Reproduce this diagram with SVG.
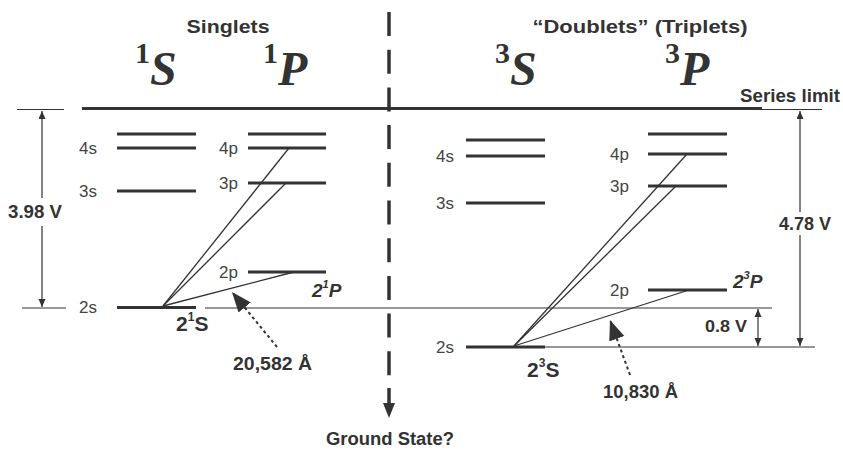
<svg xmlns="http://www.w3.org/2000/svg" width="843" height="453" viewBox="0 0 843 453">
<style>
.lvl{stroke:#333;stroke-width:3.2;fill:none}
.thin{stroke:#333;stroke-width:1.2;fill:none}
.tr{stroke:#333;stroke-width:1.3;fill:none}
.dot{stroke:#333;stroke-width:2;stroke-dasharray:3 3;fill:none}
.sans{font-family:"Liberation Sans",Arial,sans-serif}
.b{font-weight:bold;fill:#333}
.lab{font-family:"Liberation Sans",Arial,sans-serif;font-size:17px;fill:#444}
.big{font-family:"Liberation Serif","Times New Roman",serif;font-weight:bold;fill:#333}
.bi{font-size:48px;font-style:italic}
</style>
<defs>
<marker id="sm" markerUnits="userSpaceOnUse" markerWidth="8" markerHeight="12" refX="8" refY="3.5" orient="auto">
<path d="M0,0 L8,3.5 L0,7 z" fill="#333"/>
</marker>
<marker id="smStart" markerUnits="userSpaceOnUse" markerWidth="8" markerHeight="12" refX="0" refY="3.5" orient="auto">
<path d="M8,0 L0,3.5 L8,7 z" fill="#333"/>
</marker>
<marker id="bigA" markerUnits="userSpaceOnUse" markerWidth="22" markerHeight="18" refX="20" refY="8" orient="auto">
<path d="M0,0 L20,8 L0,16 z" fill="#333"/>
</marker>
</defs>

<g id="titles">
<text class="sans b" x="228" y="33" font-size="19" text-anchor="middle" textLength="83" lengthAdjust="spacingAndGlyphs">Singlets</text>
<text class="sans b" x="640" y="33" font-size="19" text-anchor="middle" textLength="215" lengthAdjust="spacingAndGlyphs">“Doublets” (Triplets)</text>
<text class="big" x="135" y="63" font-size="30">1<tspan class="bi" dy="22">S</tspan></text>
<text class="big" x="263" y="63" font-size="30">1<tspan class="bi" dy="22">P</tspan></text>
<text class="big" x="495" y="63" font-size="30">3<tspan class="bi" dy="22">S</tspan></text>
<text class="big" x="665" y="63" font-size="30">3<tspan class="bi" dy="22">P</tspan></text>
<text class="sans b" x="740" y="102" font-size="18" textLength="100" lengthAdjust="spacingAndGlyphs">Series limit</text>
</g>

<g id="series-limit">
<line class="lvl" x1="82" y1="108.5" x2="762" y2="108.5" stroke-width="3.5"/>
<line class="thin" x1="17" y1="109.5" x2="64" y2="109.5"/>
<line class="thin" x1="762" y1="109.5" x2="822" y2="109.5"/>
</g>

<g id="center-divider">
<line x1="389" y1="12" x2="389" y2="377" stroke="#333" stroke-width="3.5" stroke-dasharray="24 13.7"/>
<line x1="389" y1="388" x2="389" y2="406" stroke="#333" stroke-width="3.5"/>
<polygon points="383,403 395,403 389,418" fill="#333"/>
<text class="sans b" x="390" y="445" font-size="18" text-anchor="middle" textLength="128" lengthAdjust="spacingAndGlyphs">Ground State?</text>
</g>

<g id="singlet-S">
<line class="lvl" x1="117" y1="134" x2="196" y2="134"/>
<line class="lvl" x1="117" y1="148" x2="196" y2="148"/>
<line class="lvl" x1="117" y1="191" x2="196" y2="191"/>
<line class="lvl" x1="117" y1="307.5" x2="196" y2="307.5"/>
<text class="lab" x="79" y="154">4s</text>
<text class="lab" x="79" y="197">3s</text>
<text class="lab" x="79" y="313">2s</text>
<text class="sans b" x="176" y="331" font-size="21">2<tspan font-size="12" dy="-10">1</tspan><tspan dy="10">S</tspan></text>
</g>

<g id="singlet-P">
<line class="lvl" x1="248" y1="134" x2="326" y2="134"/>
<line class="lvl" x1="248" y1="148" x2="326" y2="148"/>
<line class="lvl" x1="248" y1="183" x2="326" y2="183"/>
<line class="lvl" x1="248" y1="272" x2="326" y2="272"/>
<text class="lab" x="219" y="154">4p</text>
<text class="lab" x="219" y="189">3p</text>
<text class="lab" x="219" y="278">2p</text>
<text class="sans b" x="312" y="297" font-size="19" font-style="italic">2<tspan font-size="11" dy="-9">1</tspan><tspan dy="9">P</tspan></text>
</g>

<g id="triplet-S">
<line class="lvl" x1="466" y1="140" x2="545" y2="140"/>
<line class="lvl" x1="466" y1="156" x2="545" y2="156"/>
<line class="lvl" x1="466" y1="203" x2="545" y2="203"/>
<line class="lvl" x1="466" y1="347" x2="545" y2="347"/>
<text class="lab" x="436" y="162">4s</text>
<text class="lab" x="436" y="209">3s</text>
<text class="lab" x="436" y="353">2s</text>
<text class="sans b" x="527" y="377" font-size="21">2<tspan font-size="12" dy="-10">3</tspan><tspan dy="10">S</tspan></text>
</g>

<g id="triplet-P">
<line class="lvl" x1="648" y1="134" x2="727" y2="134"/>
<line class="lvl" x1="648" y1="154" x2="727" y2="154"/>
<line class="lvl" x1="648" y1="186" x2="727" y2="186"/>
<line class="lvl" x1="648" y1="290" x2="727" y2="290"/>
<text class="lab" x="610" y="160">4p</text>
<text class="lab" x="610" y="192">3p</text>
<text class="lab" x="610" y="296">2p</text>
<text class="sans b" x="733" y="288" font-size="19" font-style="italic">2<tspan font-size="11" dy="-9">3</tspan><tspan dy="9">P</tspan></text>
</g>

<g id="connectors">
<line class="thin" x1="22" y1="308" x2="66" y2="308"/>
<line class="thin" x1="205" y1="308" x2="772" y2="308"/>
<line class="thin" x1="545" y1="347" x2="815" y2="347"/>
<line class="tr" x1="163" y1="306" x2="289" y2="148"/>
<line class="tr" x1="163" y1="306" x2="286" y2="183"/>
<line class="tr" x1="163" y1="306" x2="294" y2="272"/>
<line class="tr" x1="514" y1="346" x2="687" y2="154"/>
<line class="tr" x1="514" y1="346" x2="676" y2="186"/>
<line class="tr" x1="514" y1="346" x2="689" y2="290"/>
<line class="thin" x1="42" y1="198" x2="42" y2="111" marker-end="url(#sm)"/>
<line class="thin" x1="42" y1="226" x2="42" y2="307" marker-end="url(#sm)"/>
<line class="thin" x1="800" y1="212" x2="800" y2="111" marker-end="url(#sm)"/>
<line class="thin" x1="800" y1="235" x2="800" y2="346" marker-end="url(#sm)"/>
<line x1="758" y1="309" x2="758" y2="346" stroke="#888" stroke-width="2" marker-start="url(#smStart)" marker-end="url(#sm)"/>
<line class="dot" x1="277" y1="347" x2="232" y2="292" marker-end="url(#bigA)"/>
<line class="dot" x1="630" y1="375" x2="610" y2="320" marker-end="url(#bigA)"/>
</g>

<g id="labels">
<text class="sans b" x="8" y="218" font-size="18" textLength="54" lengthAdjust="spacingAndGlyphs">3.98 V</text>
<text class="sans b" x="779" y="230" font-size="18" textLength="52" lengthAdjust="spacingAndGlyphs">4.78 V</text>
<text class="sans b" x="705" y="332" font-size="17" textLength="42" lengthAdjust="spacingAndGlyphs">0.8 V</text>
<text class="sans b" x="233" y="370" font-size="18" textLength="79" lengthAdjust="spacingAndGlyphs">20,582 Å</text>
<text class="sans b" x="603" y="398" font-size="18" textLength="75" lengthAdjust="spacingAndGlyphs">10,830 Å</text>
</g>
</svg>
